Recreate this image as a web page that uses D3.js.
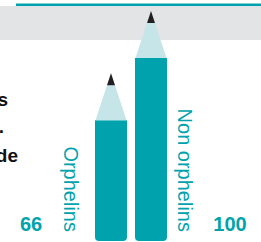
<!DOCTYPE html>
<html><head><meta charset="utf-8">
<script src="https://cdn.jsdelivr.net/npm/d3@7"></script>
<style>html,body{margin:0;padding:0;background:#fff;overflow:hidden}</style>
</head><body>
<svg id="c" width="261" height="242"></svg>
<script>
const categories = ["Orphelins", "Non orphelins"];
const values = [66, 100];
const valueLabels = ["66", "100"];
const introLines = ["Scolarisation des enfants orphelins", "pour 100 enfants non orphelins.", "Enfants âgés de"];

const teal = "#00A3AD", cone = "#C6E5E8", lead = "#231F20", grey = "#E3E4E6";
const svg = d3.select("#c");
const W = 261, H = 242;

// header band
svg.append("rect").attr("x", 0).attr("y", 6).attr("width", W).attr("height", 34).attr("fill", grey);
svg.append("rect").attr("x", 16).attr("y", 3.5).attr("width", W - 16).attr("height", 2.5).attr("fill", teal);

const x = d3.scaleBand().domain(categories).range([91, 171]).paddingInner(0.2).paddingOuter(0.1);
const y = d3.scaleLinear().domain([0, 100]).range([241, 58]);
const coneH = 47, leadH = 12;

const g = svg.selectAll("g.pencil").data(categories.map((c, i) => ({c, v: values[i], i}))).join("g").attr("class", "pencil");
g.each(function(d) {
  const sel = d3.select(this);
  const x0 = x(d.c), bw = x.bandwidth(), top = y(d.v), bot = y(0), r = 4;
  sel.append("path").attr("fill", teal).attr("d",
    `M${x0},${top}H${x0 + bw}V${bot - r}Q${x0 + bw},${bot} ${x0 + bw - r},${bot}H${x0 + r}Q${x0},${bot} ${x0},${bot - r}Z`);
  const cx = x0 + bw / 2, apex = top - coneH;
  sel.append("path").attr("fill", cone).attr("d", `M${x0 + 0.5},${top}L${cx},${apex}L${x0 + bw - 0.5},${top}Z`);
  const lw = (bw - 1) / 2 * leadH / coneH;
  sel.append("path").attr("fill", lead).attr("d", `M${cx - lw},${apex + leadH}L${cx},${apex}L${cx + lw},${apex + leadH}Z`);
});

// rotated category labels
const labX = [64, 178];
categories.forEach((c, i) => {
  svg.append("text").attr("transform", `translate(${labX[i]},232) rotate(90)`)
    .attr("text-anchor", "end").attr("fill", teal)
    .style("font-family", "Liberation Sans, Arial, sans-serif").style("font-size", "20px")
    .text(c);
});

// value labels
const valX = [31, 230];
valueLabels.forEach((t, i) => {
  svg.append("text").attr("x", valX[i]).attr("y", 231).attr("text-anchor", "middle").attr("fill", teal)
    .style("font-family", "Liberation Sans, Arial, sans-serif").style("font-size", "20px").style("font-weight", "bold")
    .text(t);
});

// intro text, clipped at left edge as in the reference
const introX = [8, 4, 18], introY = [106, 133, 162];
introLines.forEach((t, i) => {
  svg.append("text").attr("x", introX[i]).attr("y", introY[i]).attr("text-anchor", "end").attr("fill", "#111")
    .style("font-family", "Liberation Sans, Arial, sans-serif").style("font-size", "19px").style("font-weight", "bold")
    .text(t);
});
</script>
</body></html>
